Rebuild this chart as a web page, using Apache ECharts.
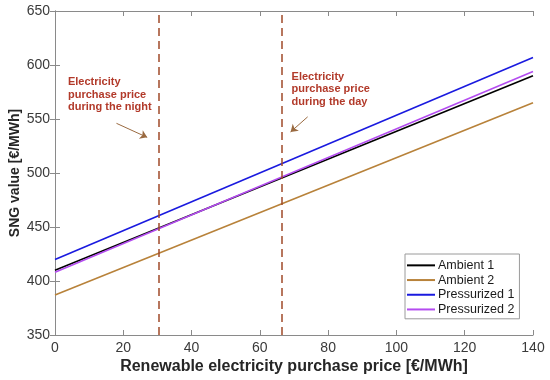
<!DOCTYPE html>
<html><head><meta charset="utf-8">
<script src="https://cdn.jsdelivr.net/npm/echarts@6/dist/echarts.min.js"></script>
<style>html,body{margin:0;padding:0;background:#fff}#c{width:550px;height:380px}</style>
</head><body><div id="c"></div>
<script>
const xEnds = [0, 140];
const seriesNames = ['Ambient 1', 'Ambient 2', 'Pressurized 1', 'Pressurized 2'];
const ambient1 = [410, 590];
const ambient2 = [387, 565];
const pressurized1 = [420, 607];
const pressurized2 = [408, 594];
const colors = ['#000000', '#b8823a', '#1a1adf', '#b44cf0'];
const nightPrice = 30.5;
const dayPrice = 66.5;
const arrowNight = [[18, 546], [27, 533]];
const arrowDay = [[74, 552], [69, 538]];
const textNight = { x: 3.8, y: 590, text: 'Electricity\npurchase price\nduring the night' };
const textDay = { x: 69.3, y: 595, text: 'Electricity\npurchase price\nduring the day' };

const chart = echarts.init(document.getElementById('c'), null, { renderer: 'canvas' });
const values = [ambient1, ambient2, pressurized1, pressurized2];
const font = 'Liberation Sans, Arial, sans-serif';
const series = values.map((v, i) => ({
  name: seriesNames[i], type: 'line', symbol: 'none', animation: false,
  data: xEnds.map((x, j) => [x, v[j]]),
  lineStyle: { color: colors[i], width: 1.6 }, itemStyle: { color: colors[i] }
}));
series.push({
  type: 'line', data: [], animation: false,
  markLine: {
    silent: true, symbol: 'none', label: { show: false }, animation: false,
    lineStyle: { color: '#a04a28', width: 1.5, type: [8, 5] },
    data: [{ xAxis: nightPrice }, { xAxis: dayPrice }]
  }
});
series.push({
  type: 'line', data: [], animation: false,
  markLine: {
    silent: true, symbol: ['none', 'arrow'], symbolSize: 7, label: { show: false }, animation: false,
    lineStyle: { color: '#9a6a40', width: 1, type: 'solid' },
    data: [
      [{ coord: arrowNight[0] }, { coord: arrowNight[1] }],
      [{ coord: arrowDay[0] }, { coord: arrowDay[1] }]
    ]
  }
});
const axisCommon = {
  axisLine: { show: true, lineStyle: { color: '#8a8a8a', width: 1 } },
  axisTick: { show: true, inside: true, length: 5, lineStyle: { color: '#8a8a8a' } },
  splitLine: { show: false }
};
chart.setOption({
  animation: false,
  grid: { left: 55, right: 17, top: 11, bottom: 45, containLabel: false, outerBoundsMode: 'none' },
  xAxis: [
    Object.assign({ type: 'value', min: 0, max: 140, interval: 20, position: 'bottom',
      name: 'Renewable electricity purchase price [€/MWh]', nameLocation: 'middle', nameGap: 24,
      nameMoveOverlap: false,
      nameTextStyle: { fontFamily: font, fontSize: 16, fontWeight: 'bold', color: '#262626' },
      axisLabel: { fontFamily: font, fontSize: 14, color: '#3a3a3a', margin: 6 } }, axisCommon),
    Object.assign({ type: 'value', min: 0, max: 140, interval: 20, position: 'top', axisLabel: { show: false } }, axisCommon)
  ],
  yAxis: [
    Object.assign({ type: 'value', min: 350, max: 650, interval: 50, position: 'left',
      name: 'SNG value [€/MWh]', nameLocation: 'middle', nameGap: 33,
      nameMoveOverlap: false,
      nameTextStyle: { fontFamily: font, fontSize: 14, fontWeight: 'bold', color: '#262626' },
      axisLabel: { fontFamily: font, fontSize: 14, color: '#3a3a3a', margin: 5 } }, axisCommon),
    Object.assign({ type: 'value', min: 350, max: 650, interval: 50, position: 'right', axisLabel: { show: false } }, axisCommon)
  ],
  legend: {
    orient: 'vertical', left: 405, top: 254, data: seriesNames,
    icon: 'rect', itemWidth: 28, itemHeight: 2, itemGap: 0,
    backgroundColor: '#fff', borderColor: '#9a9a9a', borderWidth: 1, padding: [4, 5, 2, 2],
    textStyle: { fontFamily: font, fontSize: 12.5, lineHeight: 14.7, color: '#1a1a1a', padding: [0, 0, 0, -2] }
  },
  series: series
});
function place() {
  const a = chart.convertToPixel({ xAxisIndex: 0, yAxisIndex: 0 }, [textNight.x, textNight.y]);
  const b = chart.convertToPixel({ xAxisIndex: 0, yAxisIndex: 0 }, [textDay.x, textDay.y]);
  const st = (t) => ({ text: t, fontFamily: font, fontSize: 11, fontWeight: 'bold', fill: '#b23a2a', lineHeight: 12.5 });
  chart.setOption({ graphic: [
    { type: 'text', x: a[0], y: a[1], style: st(textNight.text), silent: true },
    { type: 'text', x: b[0], y: b[1], style: st(textDay.text), silent: true }
  ] });
}
place();
</script></body></html>
